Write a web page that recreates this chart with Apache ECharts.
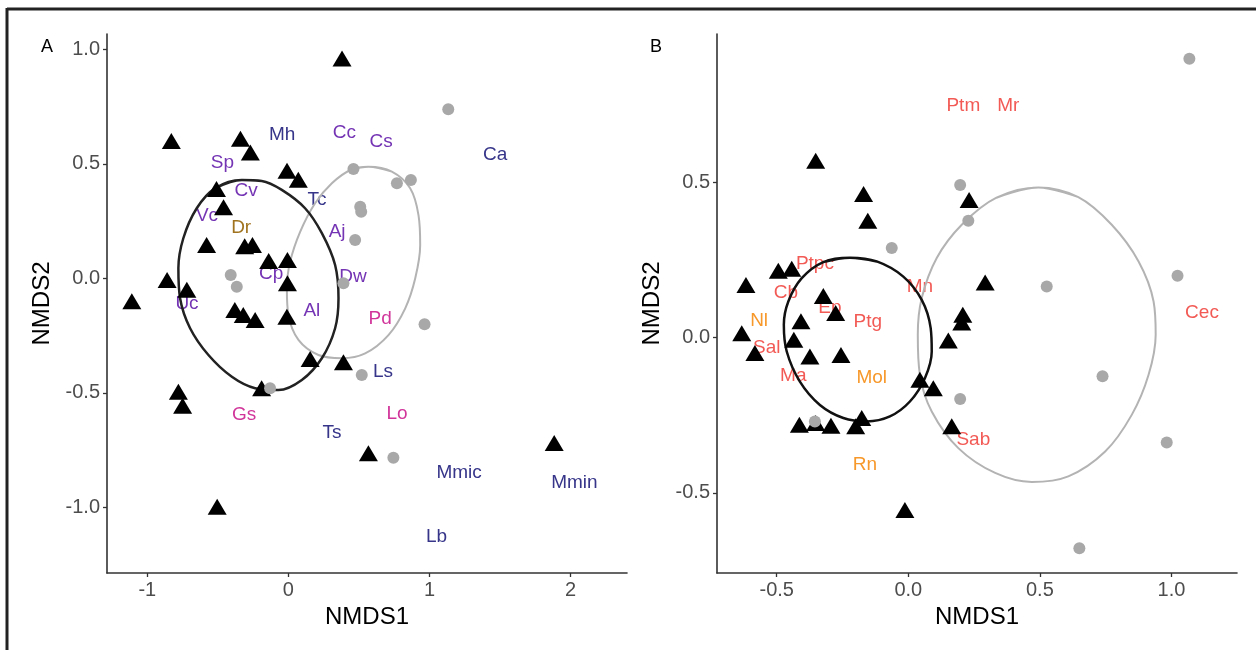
<!DOCTYPE html>
<html>
<head>
<meta charset="utf-8">
<script src="https://cdn.jsdelivr.net/npm/echarts@6/dist/echarts.min.js"></script>
<style>
html,body{margin:0;padding:0;background:#fff;}
#chart{width:1256px;height:650px;}
</style>
</head>
<body>
<div id="chart"></div>
<script>
// ---------- Panel A data ----------
const aTriangles = [[0.38,0.96],[-0.83,0.60],[-0.34,0.61],[-0.27,0.55],[-0.01,0.47],[0.07,0.43],[-0.51,0.39],[-0.46,0.31],[-0.58,0.145],[-0.31,0.14],[-0.255,0.145],[-0.14,0.076],[-0.007,0.08],[-0.86,-0.007],[-0.72,-0.05],[-0.007,-0.022],[-1.11,-0.10],[-0.38,-0.138],[-0.32,-0.16],[-0.236,-0.182],[-0.011,-0.168],[0.154,-0.352],[0.39,-0.367],[-0.19,-0.48],[-0.78,-0.495],[-0.75,-0.557],[0.567,-0.764],[-0.505,-0.998],[1.884,-0.719]];
const aCircles = [[1.133,0.738],[0.461,0.477],[0.769,0.415],[0.868,0.429],[0.509,0.313],[0.516,0.291],[0.473,0.167],[-0.409,0.014],[-0.366,-0.037],[0.39,-0.022],[0.965,-0.201],[0.52,-0.422],[-0.13,-0.48],[0.744,-0.784]];
const aEllipseBlack = [[-0.330,0.429],[-0.189,0.425],[-0.047,0.386],[0.118,0.306],[0.237,0.197],[0.331,0.058],[0.355,-0.087],[0.331,-0.218],[0.237,-0.349],[0.095,-0.444],[-0.071,-0.488],[-0.236,-0.480],[-0.401,-0.430],[-0.567,-0.335],[-0.697,-0.218],[-0.768,-0.087],[-0.780,0.044],[-0.745,0.175],[-0.650,0.306],[-0.520,0.393]];
const aEllipseGray = [[0.567,0.487],[0.733,0.466],[0.863,0.393],[0.922,0.276],[0.934,0.145],[0.899,0.000],[0.828,-0.131],[0.709,-0.248],[0.544,-0.328],[0.379,-0.349],[0.213,-0.335],[0.071,-0.269],[0.000,-0.160],[-0.011,-0.044],[0.012,0.072],[0.083,0.203],[0.189,0.328],[0.308,0.415],[0.440,0.473]];
const aLabelsBlue = [['Mh',-0.045,0.626],['Tc',0.203,0.342],['Ca',1.466,0.539],['Ls',0.67,-0.41],['Ts',0.309,-0.676],['Mmic',1.21,-0.85],['Mmin',2.027,-0.894],['Lb',1.05,-1.13]];
const aLabelsPurple = [['Cc',0.397,0.634],['Cs',0.657,0.595],['Sp',-0.468,0.503],['Cv',-0.30,0.382],['Vc',-0.577,0.272],['Aj',0.345,0.202],['Cp',-0.123,0.018],['Dw',0.457,0.006],['Uc',-0.719,-0.109],['Al',0.166,-0.142]];
const aLabelsMagenta = [['Pd',0.65,-0.175],['Gs',-0.314,-0.597],['Lo',0.77,-0.592]];
const aLabelsBrown = [['Dr',-0.335,0.22]];
const aXTicks = [-1,0,1,2];
const aYTicks = [-1.0,-0.5,0.0,0.5,1.0];

// ---------- Panel B data ----------
const bTriangles = [[-0.352,0.569],[-0.170,0.462],[-0.154,0.376],[-0.494,0.215],[-0.443,0.221],[-0.617,0.169],[-0.323,0.134],[-0.276,0.079],[-0.408,0.052],[-0.633,0.014],[-0.435,-0.007],[-0.583,-0.050],[-0.374,-0.061],[-0.256,-0.056],[0.044,-0.136],[0.095,-0.163],[-0.414,-0.281],[-0.352,-0.275],[-0.294,-0.284],[-0.200,-0.286],[-0.177,-0.259],[0.165,-0.286],[-0.013,-0.555],[0.152,-0.010],[0.207,0.073],[0.203,0.048],[0.231,0.443],[0.292,0.177]];
const bCircles = [[-0.063,0.288],[0.197,0.491],[0.228,0.376],[1.068,0.897],[0.526,0.164],[1.023,0.199],[0.738,-0.125],[0.197,-0.198],[0.982,-0.338],[0.650,-0.678],[-0.355,-0.27]];
const bEllipseBlack = [[-0.222,0.257],[-0.120,0.245],[-0.019,0.196],[0.051,0.121],[0.085,0.030],[0.089,-0.045],[0.063,-0.131],[0.006,-0.206],[-0.070,-0.254],[-0.158,-0.270],[-0.247,-0.259],[-0.336,-0.217],[-0.412,-0.142],[-0.462,-0.045],[-0.473,0.041],[-0.456,0.116],[-0.405,0.191],[-0.323,0.243]];
const bEllipseGray = [[0.494,0.483],[0.646,0.452],[0.773,0.363],[0.875,0.245],[0.932,0.116],[0.940,0.009],[0.913,-0.120],[0.849,-0.249],[0.748,-0.367],[0.608,-0.447],[0.469,-0.465],[0.330,-0.436],[0.190,-0.356],[0.089,-0.238],[0.044,-0.120],[0.036,0.009],[0.051,0.127],[0.108,0.256],[0.203,0.363],[0.335,0.450]];
const bLabelsRed = [['Ptm',0.209,0.746],['Mr',0.38,0.746],['Cec',1.116,0.079],['Ptpc',-0.355,0.239],['Cb',-0.465,0.145],['Mn',0.044,0.164],['Ep',-0.298,0.095],['Ptg',-0.154,0.052],['Sal',-0.538,-0.034],['Ma',-0.437,-0.123],['Sab',0.247,-0.329]];
const bLabelsOrange = [['Nl',-0.567,0.055],['Mol',-0.139,-0.131],['Rn',-0.165,-0.41]];
const bXTicks = [-0.5,0.0,0.5,1.0];
const bYTicks = [-0.5,0.0,0.5];

// ---------- styling ----------
const FONT = '"Liberation Sans", Arial, sans-serif';
const COL = {blue:'#36358a', purple:'#7434b4', magenta:'#d1359a', brown:'#a0741f', red:'#f25a55', orange:'#f7982a'};

function axis(gi, min, max, ticks, dec, name, isX) {
  return {
    type:'value', gridIndex:gi, min:min, max:max,
    name:name, nameLocation:'middle', nameGap: isX ? 29 : 53,
    nameTextStyle:{fontFamily:FONT, fontSize:24, color:'#000'},
    axisLine:{show:true, onZero:false, lineStyle:{color:'#333', width:1.6}},
    axisTick:{show:true, length:4, customValues:ticks, lineStyle:{color:'#333', width:1.3}},
    axisLabel:{show:true, customValues:ticks, margin:7, fontFamily:FONT, fontSize:20, color:'#4d4d4d',
      formatter:(v)=>Number(v).toFixed(dec).replace('-0.0','0.0')},
    splitLine:{show:false}
  };
}
function labelSeries(gi, arr, color) {
  return {
    type:'scatter', xAxisIndex:gi, yAxisIndex:gi, z:1, silent:true,
    symbolSize:1, itemStyle:{color:'transparent', opacity:1},
    data: arr.map(d=>({name:d[0], value:[d[1], d[2]]})),
    label:{show:true, position:'inside', formatter:'{b}', color:color, opacity:1, fontFamily:FONT, fontSize:19},
    labelLayout:{hideOverlap:false}
  };
}
// closed smooth outline: wrap the read outline points so the join is smooth too
function closeLoop(arr) {
  return [arr[arr.length-1]].concat(arr, [arr[0], arr[1]]);
}
function ellipse(gi, arr, color, w) {
  return {type:'line', xAxisIndex:gi, yAxisIndex:gi, z:2, data:closeLoop(arr), smooth:0.35, symbol:'none', silent:true,
    lineStyle:{color:color, width:w, opacity:1}};
}
function tri(gi, arr) {
  return {type:'scatter', xAxisIndex:gi, yAxisIndex:gi, z:3, data:arr, symbol:'triangle', symbolSize:[19,16], itemStyle:{color:'#000', opacity:1}};
}
function circ(gi, arr) {
  return {type:'scatter', xAxisIndex:gi, yAxisIndex:gi, z:4, data:arr, symbol:'circle', symbolSize:12, itemStyle:{color:'#a8a8a8', opacity:1}};
}

const chart = echarts.init(document.getElementById('chart'), null, {renderer:'canvas'});
chart.setOption({
  animation:false,
  backgroundColor:'#fff',
  title:[
    {text:'A', left:36, top:33, textStyle:{fontFamily:FONT, fontSize:18, fontWeight:'normal', color:'#000'}},
    {text:'B', left:645, top:33, textStyle:{fontFamily:FONT, fontSize:18, fontWeight:'normal', color:'#000'}}
  ],
  graphic:[
    {type:'line', shape:{x1:7, y1:9, x2:1256, y2:9}, style:{stroke:'#222', lineWidth:3}},
    {type:'line', shape:{x1:7, y1:8, x2:7, y2:650}, style:{stroke:'#222', lineWidth:3}}
  ],
  grid:[
    {left:107, top:34, width:520, height:539},
    {left:717, top:34, width:520, height:539}
  ],
  xAxis:[
    axis(0, -1.286, 2.40, aXTicks, 0, 'NMDS1', true),
    axis(1, -0.727, 1.249, bXTicks, 1, 'NMDS1', true)
  ],
  yAxis:[
    axis(0, -1.287, 1.067, aYTicks, 1, 'NMDS2', false),
    axis(1, -0.758, 0.977, bYTicks, 1, 'NMDS2', false)
  ],
  series:[
    labelSeries(0, aLabelsBlue, COL.blue),
    labelSeries(0, aLabelsPurple, COL.purple),
    labelSeries(0, aLabelsMagenta, COL.magenta),
    labelSeries(0, aLabelsBrown, COL.brown),
    ellipse(0, aEllipseGray, '#b3b3b3', 2),
    ellipse(0, aEllipseBlack, '#222', 2.5),
    tri(0, aTriangles),
    circ(0, aCircles),
    labelSeries(1, bLabelsRed, COL.red),
    labelSeries(1, bLabelsOrange, COL.orange),
    ellipse(1, bEllipseGray, '#b3b3b3', 2),
    ellipse(1, bEllipseBlack, '#111', 2.5),
    tri(1, bTriangles),
    circ(1, bCircles)
  ]
});
</script>
</body>
</html>
